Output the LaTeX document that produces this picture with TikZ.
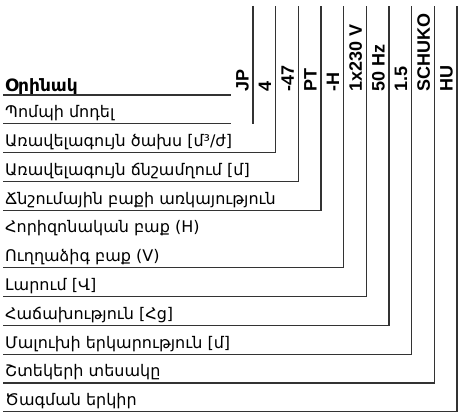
\documentclass[tikz,border=0pt]{standalone}
\usepackage{fontspec}
\setmainfont{Liberation Sans}
\newfontfamily\armfont{DejaVu Sans}
\begin{document}
\begin{tikzpicture}[x=1pt,y=1pt,
  rule/.style={draw=black!80, line width=1.3pt},
  rowtext/.style={anchor=base west, inner sep=0pt, font=\armfont\fontsize{16}{16}\selectfont},
  headtext/.style={anchor=base west, inner sep=0pt, font=\armfont\bfseries\fontsize{17}{17}\selectfont},
  codelabel/.style={anchor=base west, rotate=90, inner sep=0pt, font=\bfseries\fontsize{18}{18}\selectfont}]
\fill[white] (0,0) rectangle (458,414);
\useasboundingbox (0,0) rectangle (458,414);
% row texts
\node[headtext] (tHead) at (5,322.5) {Օրինակ};
\node[rowtext] (t1) at (5,296.2) {Պոմպի մոդել};
\node[rowtext] (t2) at (5,267.4) {Առավելագույն ծախս [մ³/ժ]};
\node[rowtext] (t3) at (5,238.6) {Առավելագույն ճնշամղում [մ]};
\node[rowtext] (t4) at (5,209.8) {Ճնշումային բաքի առկայություն};
\node[rowtext] (t5a) at (5,181) {Հորիզոնական բաք (H)};
\node[rowtext] (t5b) at (5,152.2) {Ուղղաձիգ բաք (V)};
\node[rowtext] (t6) at (5,123.4) {Լարում [Վ]};
\node[rowtext] (t7) at (5,94.6) {Հաճախություն [Հց]};
\node[rowtext] (t8) at (5,65.8) {Մալուխի երկարություն [մ]};
\node[rowtext] (t9) at (5,37) {Շտեկերի տեսակը};
\node[rowtext] (t10) at (5,8.2) {Ծագման երկիր};
% code labels
\node[codelabel] (c1) at (248.5,322) {JP};
\node[codelabel] (c2) at (271.2,322) {4};
\node[codelabel] (c3) at (293.8,322) {-47};
\node[codelabel] (c4) at (316.5,322) {PT};
\node[codelabel] (c5) at (339.2,322) {-H};
\node[codelabel] (c6) at (361.8,322) {1x230 V};
\node[codelabel] (c7) at (384.5,322) {50 Hz};
\node[codelabel] (c8) at (407.2,322) {1.5};
\node[codelabel] (c9) at (429.8,322) {SCHUKO};
\node[codelabel] (c10) at (452.5,322) {HU};
% coordinates
\coordinate (h0s) at (3,319);   \coordinate (h0e) at (231,319);
\coordinate (h1s) at (3,290.2); \coordinate (h1e) at (231,290.2);
\coordinate (v1t) at (253,408); \coordinate (v1b) at (253,290.2);
\coordinate (h2) at (3,261.4);  \coordinate (v2) at (275.7,408);
\coordinate (h3) at (3,232.6);  \coordinate (v3) at (298.3,408);
\coordinate (h4) at (3,203.8);  \coordinate (v4) at (321,408);
\coordinate (h5) at (3,146.2);  \coordinate (v5) at (343.7,408);
\coordinate (h6) at (3,117.4);  \coordinate (v6) at (366.3,408);
\coordinate (h7) at (3,88.6);   \coordinate (v7) at (389,408);
\coordinate (h8) at (3,59.8);   \coordinate (v8) at (411.7,408);
\coordinate (h9) at (3,31);     \coordinate (v9) at (434.3,408);
\coordinate (h10) at (3,2.2);   \coordinate (v10) at (457,408);
% rules
\draw[rule] (h0s) -- (h0e);
\draw[rule] (h1s) -- (h1e);
\draw[rule] (v1t) -- (v1b);
\draw[rule] (h2) -| (v2);
\draw[rule] (h3) -| (v3);
\draw[rule] (h4) -| (v4);
\draw[rule] (h5) -| (v5);
\draw[rule] (h6) -| (v6);
\draw[rule] (h7) -| (v7);
\draw[rule] (h8) -| (v8);
\draw[rule] (h9) -| (v9);
\draw[rule] (h10) -| (v10);
\end{tikzpicture}
\end{document}
